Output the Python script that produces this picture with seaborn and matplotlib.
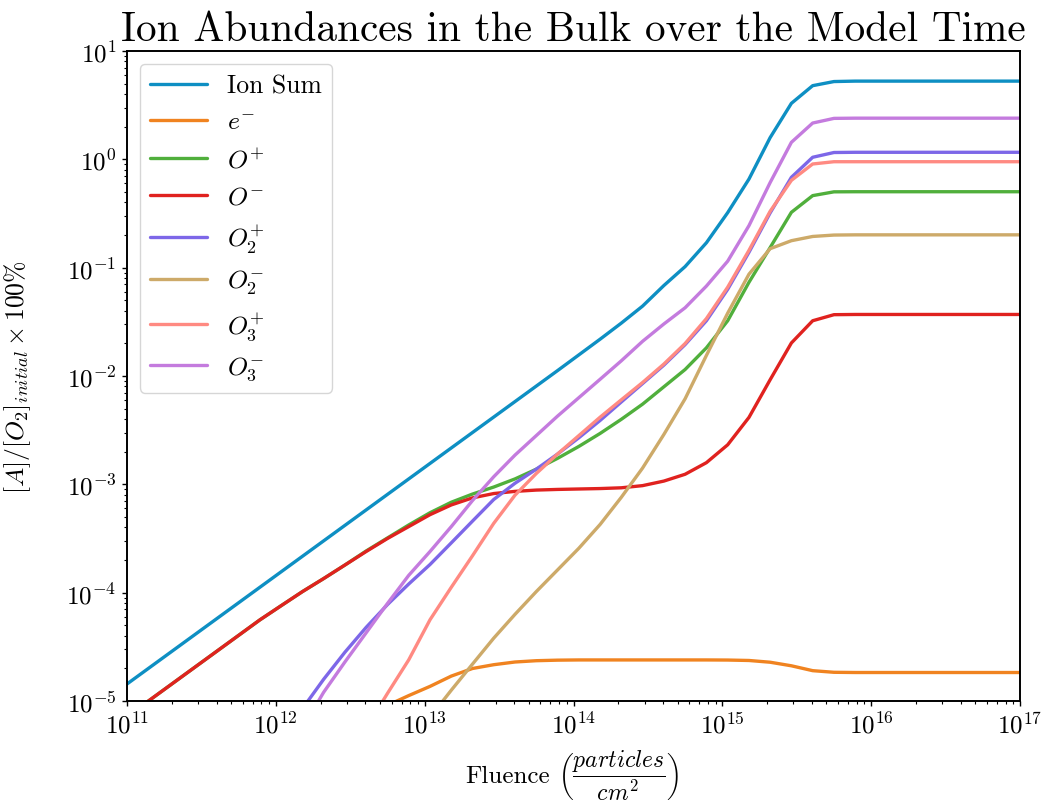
import matplotlib
matplotlib.use("Agg")
import numpy as np
import pandas as pd
import matplotlib.pyplot as plt
from matplotlib import ticker
import seaborn as sns

# ---- data (log10 of values) ----
fluence_exp = [10.893, 11.036, 11.179, 11.321, 11.464, 11.607, 11.750, 11.893,
               12.036, 12.179, 12.321, 12.464, 12.607, 12.750, 12.893, 13.036,
               13.179, 13.321, 13.464, 13.607, 13.750, 13.893, 14.036, 14.179,
               14.321, 14.464, 14.607, 14.750, 14.893, 15.036, 15.179, 15.321,
               15.464, 15.607, 15.750, 15.893, 16.036, 16.179, 16.321, 16.464,
               16.607, 16.750, 16.893, 17.036]

N = None
ion_sum_exp = [-4.950, -4.807, -4.664, -4.522, -4.379, -4.236, -4.093, -3.950,
               -3.807, -3.664, -3.522, -3.379, -3.236, -3.093, -2.950, -2.807,
               -2.664, -2.522, -2.379, -2.236, -2.093, -1.950, -1.805, -1.660,
               -1.512, -1.355, -1.165, -0.990, -0.770, -0.492, -0.182, 0.200,
               0.517, 0.680, 0.718, 0.722, 0.722, 0.722, 0.722, 0.722,
               0.722, 0.722, 0.722, 0.722]
electron_exp = [N, N, N, N, N, N, N, N,
                N, N, N, N, -5.14, -5.04, -4.95, -4.865,
                -4.77, -4.70, -4.665, -4.64, -4.628, -4.623, -4.621, -4.621,
                -4.621, -4.621, -4.621, -4.621, -4.621, -4.622, -4.626, -4.642,
                -4.675, -4.72, -4.735, -4.737, -4.737, -4.737, -4.737, -4.737,
                -4.737, -4.737, -4.737, -4.737]
o_plus_exp = [-5.251, -5.108, -4.965, -4.823, -4.680, -4.537, -4.394, -4.251,
              -4.12, -3.99, -3.87, -3.745, -3.615, -3.495, -3.375, -3.262,
              -3.165, -3.09, -3.025, -2.95, -2.86, -2.76, -2.65, -2.53,
              -2.40, -2.26, -2.10, -1.94, -1.74, -1.49, -1.135, -0.815,
              -0.489, -0.335, -0.300, -0.299, -0.299, -0.299, -0.299, -0.299,
              -0.299, -0.299, -0.299, -0.299]
o_minus_exp = [-5.251, -5.108, -4.965, -4.823, -4.680, -4.537, -4.394, -4.251,
               -4.12, -3.99, -3.87, -3.745, -3.62, -3.50, -3.39, -3.28,
               -3.19, -3.125, -3.085, -3.065, -3.053, -3.047, -3.043, -3.039,
               -3.032, -3.012, -2.97, -2.907, -2.80, -2.635, -2.382, -2.035,
               -1.695, -1.49, -1.434, -1.432, -1.432, -1.432, -1.432, -1.432,
               -1.432, -1.432, -1.432, -1.432]
o2_plus_exp = [N, N, N, N, N, N, N, N,
               N, -5.07, -4.80, -4.55, -4.32, -4.11, -3.92, -3.74,
               -3.54, -3.34, -3.14, -2.99, -2.86, -2.72, -2.57, -2.41,
               -2.24, -2.07, -1.90, -1.71, -1.49, -1.20, -0.858, -0.495,
               -0.166, 0.019, 0.063, 0.065, 0.065, 0.065, 0.065, 0.065,
               0.065, 0.065, 0.065, 0.065]
o2_minus_exp = [N, N, N, N, N, N, N, N,
                N, N, N, N, N, N, N, -5.15,
                -4.90, -4.66, -4.42, -4.20, -3.99, -3.79, -3.59, -3.37,
                -3.12, -2.85, -2.54, -2.21, -1.81, -1.42, -1.06, -0.825,
                -0.751, -0.712, -0.699, -0.697, -0.697, -0.697, -0.697, -0.697,
                -0.697, -0.697, -0.697, -0.697]
o3_plus_exp = [N, N, N, N, N, N, N, N,
               N, N, N, N, -5.25, -4.93, -4.62, -4.25,
               -3.95, -3.66, -3.36, -3.10, -2.90, -2.72, -2.55, -2.38,
               -2.22, -2.06, -1.89, -1.70, -1.47, -1.18, -0.84, -0.48,
               -0.194, -0.043, -0.022, -0.022, -0.022, -0.022, -0.022, -0.022,
               -0.022, -0.022, -0.022, -0.022]
o3_minus_exp = [N, N, N, N, N, N, N, N,
                N, -5.25, -4.92, -4.64, -4.37, -4.10, -3.84, -3.62,
                -3.39, -3.15, -2.93, -2.73, -2.55, -2.37, -2.20, -2.03,
                -1.86, -1.68, -1.52, -1.37, -1.17, -0.94, -0.612, -0.215,
                0.157, 0.335, 0.378, 0.380, 0.380, 0.380, 0.380, 0.380,
                0.380, 0.380, 0.380, 0.380]

species = ["Ion Sum", r"$e^{-}$", r"$O^{+}$", r"$O^{-}$",
           r"$O_2^{+}$", r"$O_2^{-}$", r"$O_3^{+}$", r"$O_3^{-}$"]
series = [ion_sum_exp, electron_exp, o_plus_exp, o_minus_exp,
          o2_plus_exp, o2_minus_exp, o3_plus_exp, o3_minus_exp]
colors = ["#0e8fc3", "#f08320", "#50af3c", "#e0221f",
          "#7d67e8", "#cdaa69", "#ff8a82", "#c47bde"]

xlim = (1e11, 1e17)
ylim = (1e-5, 1e1)

rows = []
for name, vals in zip(species, series):
    for e, v in zip(fluence_exp, vals):
        if v is not None:
            rows.append({"fluence": 10.0 ** e, "abundance": 10.0 ** v, "species": name})
df = pd.DataFrame(rows)

# ---- style ----
sns.set_theme(style="ticks")
plt.rcParams.update({
    "font.family": "serif",
    "font.serif": ["cmr10", "DejaVu Serif"],
    "mathtext.fontset": "cm",
    "axes.formatter.use_mathtext": True,
    "axes.unicode_minus": False,
    "text.color": "black",
    "axes.labelcolor": "black",
    "xtick.color": "black",
    "ytick.color": "black",
    "axes.edgecolor": "black",
})

fig = plt.figure(figsize=(10.49, 8.04), dpi=100)
ax = fig.add_axes([127 / 1049, 1 - 702 / 804, (1020 - 127) / 1049, (702 - 52) / 804])
ax.set_xscale("log")
ax.set_yscale("log")

sns.lineplot(data=df, x="fluence", y="abundance", hue="species",
             hue_order=species, palette=dict(zip(species, colors)),
             linewidth=2.4, estimator=None, sort=True, ax=ax)

ax.set_xlim(*xlim)
ax.set_ylim(*ylim)

fmt = ticker.FuncFormatter(lambda v, p: r"$10^{%d}$" % int(round(np.log10(v))))
ax.xaxis.set_major_formatter(fmt)
ax.yaxis.set_major_formatter(fmt)
ax.xaxis.set_minor_formatter(ticker.NullFormatter())
ax.yaxis.set_minor_formatter(ticker.NullFormatter())
ax.xaxis.set_major_locator(ticker.LogLocator(base=10, numticks=20))
ax.yaxis.set_major_locator(ticker.LogLocator(base=10, numticks=20))
ax.xaxis.set_minor_locator(ticker.LogLocator(base=10, subs=np.arange(2, 10), numticks=100))
ax.yaxis.set_minor_locator(ticker.LogLocator(base=10, subs=np.arange(2, 10), numticks=100))

for s in ax.spines.values():
    s.set_linewidth(1.4)
    s.set_color("black")
ax.tick_params(which="major", direction="out", length=3.6, width=1.0,
               labelsize=18, colors="black", pad=4, top=False, right=False)
ax.tick_params(which="minor", direction="out", length=2.2, width=0.8,
               top=False, right=False)

# x label: "Fluence" plus a fraction drawn at its own size, as in the reference
ax.set_xlabel("Fluence", fontsize=18)
ax.xaxis.label.set_horizontalalignment("right")
ax.xaxis.set_label_coords((550 - 127) / 893, (702 - 766) / 650)
ax.text((558 - 127) / 893, (702 - 776) / 650,
        r"$\left(\dfrac{particles}{cm^2}\right)$", transform=ax.transAxes,
        ha="left", va="center", fontsize=17, color="black")

ax.set_ylabel(r"$[A]/[O_2]_{initial}\times 100\%$", fontsize=18.5)
ax.yaxis.set_label_coords(-0.105, 0.5)
ax.set_title("Ion Abundances in the Bulk over the Model Time", fontsize=29.7,
             pad=8, color="black")

handles, labels = ax.get_legend_handles_labels()
leg = ax.legend(handles, labels, loc="upper left", fontsize=18.5,
                frameon=True, fancybox=True, framealpha=0.8,
                edgecolor="0.8", handlelength=2.2)
for h in leg.get_lines():
    h.set_linewidth(2.4)

fig.savefig("out.png", dpi=100)
